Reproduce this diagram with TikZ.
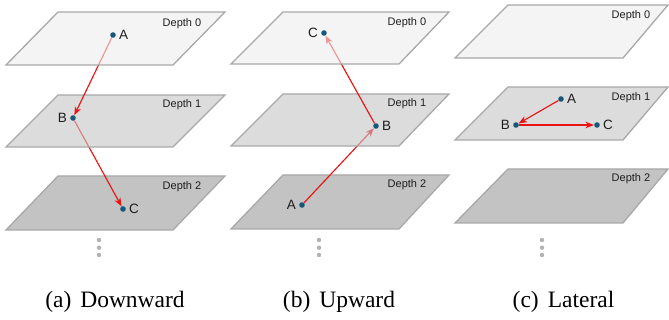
\documentclass[tikz,border=0pt]{standalone}
\usepackage{fontspec}
\setmainfont{Liberation Serif}
\setsansfont{Liberation Sans}
\usetikzlibrary{arrows.meta}
\definecolor{fzero}{RGB}{237,237,237}
\definecolor{fone}{RGB}{197,197,197}
\definecolor{ftwo}{RGB}{195,195,195}
\definecolor{pborder}{RGB}{168,168,168}
\definecolor{arrred}{RGB}{235,20,20}
\definecolor{dotblue}{RGB}{22,88,122}
\definecolor{dotgrey}{RGB}{178,178,178}
\definecolor{txt}{RGB}{30,30,30}
\pgfdeclarelayer{lzero}
\pgfdeclarelayer{lone}
\pgfdeclarelayer{ltwo}
\pgfdeclarelayer{lthree}
\pgfdeclarelayer{lfour}
\pgfsetlayers{lzero,lone,ltwo,lthree,lfour,main}
\tikzset{
  plane/.style={draw=pborder, line width=1.3pt, line join=miter},
  planezero/.style={plane, fill=fzero, fill opacity=0.6},
  planeone/.style={plane, fill=fone, fill opacity=0.6},
  planetwo/.style={plane, fill=ftwo},
  dot/.style={circle, fill=dotblue, inner sep=0pt, minimum size=5.6pt},
  gdot/.style={circle, fill=dotgrey, inner sep=0pt, minimum size=4.4pt},
  lbl/.style={font=\sffamily\fontsize{13.5}{13.5}\selectfont, text=txt, inner sep=0pt},
  depthlbl/.style={font=\sffamily\fontsize{11}{11}\selectfont, text=txt, inner sep=0pt},
  captxt/.style={font=\fontsize{23.5}{23.5}\selectfont, inner sep=0pt},
  conn/.style={draw=arrred, line width=1.15pt, -{Stealth[length=8.5pt,width=6.5pt,inset=2.5pt]}},
}
\begin{document}
\begin{tikzpicture}[x=1pt,y=-1pt]
\useasboundingbox (0,0) rectangle (669,320);

% ---------- dots (main layer) ----------
\node[dot] (aA) at (113,35) {};
\node[dot] (aB) at (73,118) {};
\node[dot] (aC) at (123,209) {};
\node[dot] (bA) at (302,205) {};
\node[dot] (bB) at (376,126) {};
\node[dot] (bC) at (324,33) {};
\node[dot] (cA) at (561,99) {};
\node[dot] (cB) at (516,125) {};
\node[dot] (cC) at (597,125) {};

\node[lbl, anchor=west] at ([xshift=3pt]aA.east) {A};
\node[lbl, anchor=east] at ([xshift=-3pt]aB.west) {B};
\node[lbl, anchor=west] at ([xshift=3pt]aC.east) {C};
\node[lbl, anchor=east] at ([xshift=-3pt]bA.west) {A};
\node[lbl, anchor=west] at ([xshift=3pt]bB.east) {B};
\node[lbl, anchor=east] at ([xshift=-3pt]bC.west) {C};
\node[lbl, anchor=west] at ([xshift=3pt]cA.east) {A};
\node[lbl, anchor=east] at ([xshift=-3pt]cB.west) {B};
\node[lbl, anchor=west] at ([xshift=3pt]cC.east) {C};

% ---------- planes ----------
\begin{pgfonlayer}{lzero}
\path[planetwo] (6,230)--(58,176)--(225,176)--(173,230)--cycle;
\path[planetwo] (231,229)--(283,175)--(449,175)--(399,229)--cycle;
\path[planetwo] (455,223)--(508,169)--(668,169)--(623,223)--cycle;
\end{pgfonlayer}
\begin{pgfonlayer}{ltwo}
\path[planeone] (6,147)--(58,95)--(225,95)--(173,147)--cycle;
\path[planeone] (231,146)--(283,94)--(449,94)--(399,146)--cycle;
\path[planeone] (455,140)--(508,87)--(668,87)--(623,140)--cycle;
\end{pgfonlayer}
\begin{pgfonlayer}{lfour}
\path[planezero] (6,65)--(58,12)--(225,12)--(173,65)--cycle;
\path[planezero] (231,64)--(283,12)--(449,12)--(399,64)--cycle;
\path[planezero] (455,58)--(508,5)--(668,5)--(623,58)--cycle;
\end{pgfonlayer}

% ---------- connectors ----------
\begin{pgfonlayer}{lone}
\draw[conn] (aB) -- (aC);
\draw[conn] (bA) -- (bB);
\end{pgfonlayer}
\begin{pgfonlayer}{lthree}
\draw[conn] (aA) -- (aB);
\draw[conn] (bB) -- (bC);
\end{pgfonlayer}
\draw[conn] (cA) -- (cB);
\draw[conn] (cB) -- (cC);

% ---------- depth labels ----------
\node[depthlbl] (a0) at (182,24) {Depth 0};
\node[depthlbl] (a1) at (182,105) {Depth 1};
\node[depthlbl] (a2) at (182,187) {Depth 2};
\node[depthlbl] (b0) at (407,23) {Depth 0};
\node[depthlbl] (b1) at (407,104) {Depth 1};
\node[depthlbl] (b2) at (407,185) {Depth 2};
\node[depthlbl] (c0) at (631,16) {Depth 0};
\node[depthlbl] (c1) at (631,98) {Depth 1};
\node[depthlbl] (c2) at (631,179) {Depth 2};

% ---------- vertical ellipsis ----------
\foreach \px/\nm in {99/a,319/b,542/c}{
  \node[gdot] (\nm g1) at (\px,240) {};
  \node[gdot] (\nm g2) at (\px,247.7) {};
  \node[gdot] (\nm g3) at (\px,255) {};
}

% ---------- captions ----------
\node[captxt] (capa) at (115,302) {(a)\hskip 9pt Downward};
\node[captxt] (capb) at (339,302) {(b)\hskip 9pt Upward};
\node[captxt] (capc) at (563.5,302) {(c)\hskip 9pt Lateral};
\end{tikzpicture}
\end{document}
